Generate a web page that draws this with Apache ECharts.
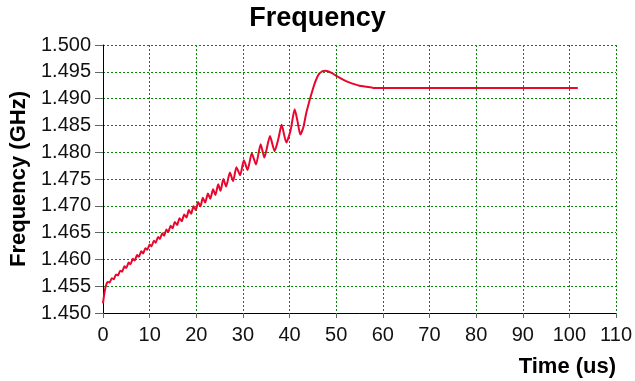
<!DOCTYPE html>
<html>
<head>
<meta charset="utf-8">
<script src="https://cdn.jsdelivr.net/npm/echarts@6/dist/echarts.min.js"></script>
<style>
  html, body { margin: 0; padding: 0; background: #fff; }
  #chart { width: 635px; height: 381px; }
</style>
</head>
<body>
<div id="chart"></div>
<script>
// time in us, frequency in GHz
const timeUs = [
  0, 0.3, 0.6, 1.0, 1.4, 1.9, 2.3, 2.8, 3.2, 3.7, 4.1, 4.6, 5.0, 5.5, 5.9, 6.4, 6.8, 7.3, 7.7,
  8.2, 8.6, 9.1, 9.5, 10.0, 10.4, 10.9, 11.3, 11.8, 12.2, 12.7, 13.1, 13.6, 14.0, 14.5, 14.9,
  15.4, 15.9, 16.4, 16.9, 17.4, 17.9, 18.4, 18.9, 19.4, 19.9, 20.4, 20.9, 21.4, 21.9, 22.5,
  23.0, 23.6, 24.1, 24.7, 25.2, 25.8, 26.4, 27.2, 27.9, 28.6, 29.4, 30.2, 31.0, 31.9, 32.8,
  33.8, 34.6, 35.8, 36.8, 37.6, 38.3, 39.3, 40.2, 41.1, 41.7, 42.3, 43.0, 43.6, 45.0, 46.1,
  47.0, 47.7, 49.0, 50.5, 52.0, 53.5, 55.0, 56.5, 58.0, 60.0, 70.0, 80.0, 90.0, 101.8
];
const freqGHz = [
  1.4518, 1.4537, 1.4550, 1.4558, 1.4557, 1.4565, 1.4563, 1.4572, 1.4570, 1.4579, 1.4577,
  1.4587, 1.4584, 1.4594, 1.4591, 1.4601, 1.4598, 1.4608, 1.4605, 1.4615, 1.4611, 1.4621,
  1.4618, 1.4628, 1.4624, 1.4635, 1.4631, 1.4642, 1.4638, 1.4649, 1.4644, 1.4656, 1.4651,
  1.4663, 1.4658, 1.4670, 1.4664, 1.4677, 1.4671, 1.4684, 1.4678, 1.4692, 1.4685, 1.4699,
  1.4692, 1.4707, 1.4699, 1.4715, 1.4706, 1.4723, 1.4713, 1.4731, 1.4720, 1.4740, 1.4728,
  1.4750, 1.4736, 1.4762, 1.4746, 1.4772, 1.4757, 1.4785, 1.4767, 1.4798, 1.4777, 1.4815,
  1.4790, 1.4830, 1.4802, 1.4825, 1.4851, 1.4818, 1.4840, 1.4880, 1.4858, 1.4833, 1.4848,
  1.4874, 1.4918, 1.4943, 1.4951, 1.4952, 1.4948, 1.4940, 1.4933, 1.4928, 1.4924, 1.4922,
  1.4920, 1.4920, 1.4920, 1.4920, 1.4920, 1.4920
];

const chart = echarts.init(document.getElementById('chart'));
const gridLine = { show: true, lineStyle: { color: '#0a870a', type: [2, 2], width: 1 } };
const font = 'Liberation Sans, Arial, sans-serif';

chart.setOption({
  animation: false,
  title: {
    text: 'Frequency',
    left: 'center',
    top: 0,
    textStyle: { fontFamily: font, fontSize: 27, fontWeight: 'bold', color: '#000' }
  },
  grid: { left: 103, right: 18, top: 45, bottom: 68 },
  xAxis: {
    type: 'value',
    min: 0,
    max: 110,
    interval: 10,
    name: 'Time (us)',
    nameLocation: 'end',
    nameGap: 0,
    nameTextStyle: {
      fontFamily: font, fontSize: 22, fontWeight: 'bold', color: '#000',
      align: 'right', verticalAlign: 'top', padding: [43, 0, 0, 0]
    },
    axisLine: { lineStyle: { color: '#000', width: 1 } },
    axisTick: { show: true, length: 5, lineStyle: { color: '#666' } },
    axisLabel: { fontFamily: font, fontSize: 20, color: '#111', margin: 12 },
    splitLine: gridLine
  },
  yAxis: {
    type: 'value',
    min: 1.45,
    max: 1.5,
    interval: 0.005,
    name: 'Frequency (GHz)',
    nameLocation: 'middle',
    nameGap: 67,
    nameTextStyle: { fontFamily: font, fontSize: 22, fontWeight: 'bold', color: '#000' },
    axisLine: { show: true, lineStyle: { color: '#000', width: 1 } },
    axisTick: { show: true, length: 8, lineStyle: { color: '#666' } },
    axisLabel: {
      fontFamily: font, fontSize: 20, color: '#111', margin: 12,
      formatter: v => v.toFixed(3)
    },
    splitLine: gridLine
  },
  series: [{
    type: 'line',
    data: timeUs.map((t, i) => [t, freqGHz[i]]),
    showSymbol: false,
    smooth: 0.2,
    lineStyle: { color: '#e8062e', width: 2 }
  }]
});
</script>
</body>
</html>
